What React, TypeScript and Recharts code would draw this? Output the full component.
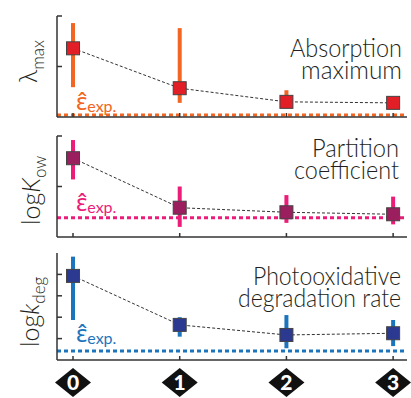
import React from 'react';
import { ComposedChart, Scatter, XAxis, YAxis, ErrorBar, ReferenceLine } from 'recharts';

// ---- data ----
const categories = [0, 1, 2, 3];
const tickLabels = ['0', '1', '2', '3'];

const absValues = [1.36, 0.57, 0.3, 0.28];
const absLow = [0.59, 0.28, 0.27, 0.26];
const absHigh = [1.86, 1.76, 0.53, 0.3];
const absEps = 0.04;
const absTicks = [1, 2];

const kowValues = [1.56, 0.58, 0.49, 0.45];
const kowLow = [1.14, 0.2, 0.28, 0.25];
const kowHigh = [1.92, 1.0, 0.83, 0.8];
const kowEps = 0.38;
const kowTicks = [1, 2];

const degValues = [3.93, 1.64, 1.17, 1.25];
const degLow = [1.87, 1.09, 0.55, 0.65];
const degHigh = [4.83, 2.0, 2.1, 1.87];
const degEps = 0.42;
const degTicks = [1, 2, 3, 4];

const build = (vals: number[], lo: number[], hi: number[]) =>
  categories.map((c, i) => ({ x: c, y: vals[i], err: [vals[i] - lo[i], hi[i] - vals[i]] }));

const AXIS = '#333';
const TITLE_FONT = 'Lato, "Open Sans", sans-serif';

const XTick = (props: any) => {
  const { x, y } = props;
  return <line x1={x} x2={x} y1={y} y2={y - 4} stroke={AXIS} strokeWidth={1.5} />;
};

const DiamondTick = (props: any) => {
  const { x, y, index, payload } = props;
  const cy = y + 22.5;
  const label = tickLabels[index] ?? String(payload.value);
  return (
    <g>
      <line x1={x} x2={x} y1={y} y2={y - 4} stroke={AXIS} strokeWidth={1.5} />
      <polygon
        points={`${x},${cy - 14.5} ${x + 18},${cy} ${x},${cy + 14.5} ${x - 18},${cy}`}
        fill="#111"
      />
      <text
        x={x}
        y={cy + 7.5}
        textAnchor="middle"
        fill="#fff"
        fontFamily={TITLE_FONT}
        fontWeight={900}
        fontSize={21}
      >
        {label}
      </text>
    </g>
  );
};

const YTick = (props: any) => {
  const { x, y } = props;
  return <line x1={x} x2={x + 5} y1={y} y2={y} stroke={AXIS} strokeWidth={1.5} />;
};

const squareShape = (fill: string) => (p: any) => {
  const { cx, cy } = p;
  return <rect x={cx - 6.5} y={cy - 6.5} width={13} height={13} fill={fill} stroke="#444" strokeWidth={1} />;
};

type PanelProps = {
  top: number;
  height: number;
  mTop: number;
  mBottom: number;
  data: any[];
  domain: [number, number];
  ticks: number[];
  eps: number;
  barColor: string;
  markerColor: string;
  diamonds?: boolean;
};

function Panel({ top, height, mTop, mBottom, data, domain, ticks, eps, barColor, markerColor, diamonds }: PanelProps) {
  return (
    <div style={{ position: 'absolute', left: 0, top }}>
      <ComposedChart width={411} height={height} margin={{ top: mTop, right: 4, bottom: mBottom, left: 56 }}>
        <XAxis
          type="number"
          dataKey="x"
          domain={[-0.15, 3.13]}
          ticks={categories}
          interval={0}
          height={1}
          tickSize={0}
          tickMargin={0}
          tickLine={false}
          axisLine={{ stroke: AXIS, strokeWidth: 1.5 }}
          tick={diamonds ? DiamondTick : XTick}
          allowDataOverflow
        />
        <YAxis
          type="number"
          dataKey="y"
          domain={domain}
          ticks={ticks}
          interval={0}
          width={1}
          tickSize={0}
          tickMargin={0}
          tickLine={false}
          axisLine={{ stroke: AXIS, strokeWidth: 1.5 }}
          tick={YTick}
          allowDataOverflow
        />
        <ReferenceLine y={eps} stroke={barColor} strokeWidth={3} strokeDasharray="4 3" />
        <Scatter
          data={data}
          dataKey="y"
          isAnimationActive={false}
          line={{ stroke: '#333', strokeWidth: 1, strokeDasharray: '3 2' }}
          shape={squareShape(markerColor)}
        >
          <ErrorBar dataKey="err" direction="y" width={0} stroke={barColor} strokeWidth={4} isAnimationActive={false} />
        </Scatter>
      </ComposedChart>
    </div>
  );
}

const ORANGE = '#F26522';
const MAGENTA = '#EC1C79';
const BLUE = '#1C75BC';

function Eps({ y, color }: { y: number; color: string }) {
  return (
    <text x={76} y={y} fill={color}>
      <tspan fontFamily='"Noto Sans", "DejaVu Sans", sans-serif' fontSize={24}>
        {'\u03B5\u0302'}
      </tspan>
      <tspan fontFamily={TITLE_FONT} fontSize={16} dy={2}>
        exp.
      </tspan>
    </text>
  );
}

function Title({ x, y, len, children }: { x: number; y: number; len: number; children: string }) {
  return (
    <text
      x={x}
      y={y}
      textAnchor="end"
      fontFamily={TITLE_FONT}
      fontWeight={300}
      fontSize={26}
      fill="#231F20"
      textLength={len}
      lengthAdjust="spacingAndGlyphs"
    >
      {children}
    </text>
  );
}

export default function App() {
  return (
    <div style={{ position: 'absolute', left: 0, top: 0, width: 411, height: 398, background: '#fff' }}>
      <Panel
        top={0}
        height={120}
        mTop={16}
        mBottom={2}
        data={build(absValues, absLow, absHigh)}
        domain={[0, 2]}
        ticks={absTicks}
        eps={absEps}
        barColor={ORANGE}
        markerColor="#E21F26"
      />
      <Panel
        top={120}
        height={120}
        mTop={16}
        mBottom={2}
        data={build(kowValues, kowLow, kowHigh)}
        domain={[0, 2]}
        ticks={kowTicks}
        eps={kowEps}
        barColor={MAGENTA}
        markerColor="#9B1F5F"
      />
      <Panel
        top={240}
        height={158}
        mTop={13}
        mBottom={37}
        data={build(degValues, degLow, degHigh)}
        domain={[0, 5]}
        ticks={degTicks}
        eps={degEps}
        barColor={BLUE}
        markerColor="#2B3990"
        diamonds
      />
      <svg
        width={411}
        height={398}
        style={{ position: 'absolute', left: 0, top: 0, pointerEvents: 'none' }}
      >
        <Title x={402} y={57} len={112}>Absorption</Title>
        <Title x={402} y={78.5} len={101}>maximum</Title>
        <Title x={399} y={157} len={87}>Partition</Title>
        <Title x={399} y={178.5} len={105}>coefficient</Title>
        <Title x={401} y={285} len={148}>Photooxidative</Title>
        <Title x={401} y={307} len={163}>degradation rate</Title>

        <text transform="translate(37,83) rotate(-90)" fill="#231F20" fontFamily={TITLE_FONT} fontWeight={300}>
          <tspan fontSize={25}>λ</tspan>
          <tspan fontSize={17} dy={7}>max</tspan>
        </text>
        <text transform="translate(40,225) rotate(-90)" fill="#231F20" fontFamily={TITLE_FONT} fontWeight={300}>
          <tspan fontSize={25}>log</tspan>
          <tspan fontSize={25} fontStyle="italic">K</tspan>
          <tspan fontSize={17} dy={6}>ow</tspan>
        </text>
        <text transform="translate(39,347) rotate(-90)" fill="#231F20" fontFamily={TITLE_FONT} fontWeight={300}>
          <tspan fontSize={25}>log</tspan>
          <tspan fontSize={25} fontStyle="italic">k</tspan>
          <tspan fontSize={17} dy={6}>deg</tspan>
        </text>

        <Eps y={110} color={ORANGE} />
        <Eps y={211} color={MAGENTA} />
        <Eps y={342} color={BLUE} />
      </svg>
    </div>
  );
}
